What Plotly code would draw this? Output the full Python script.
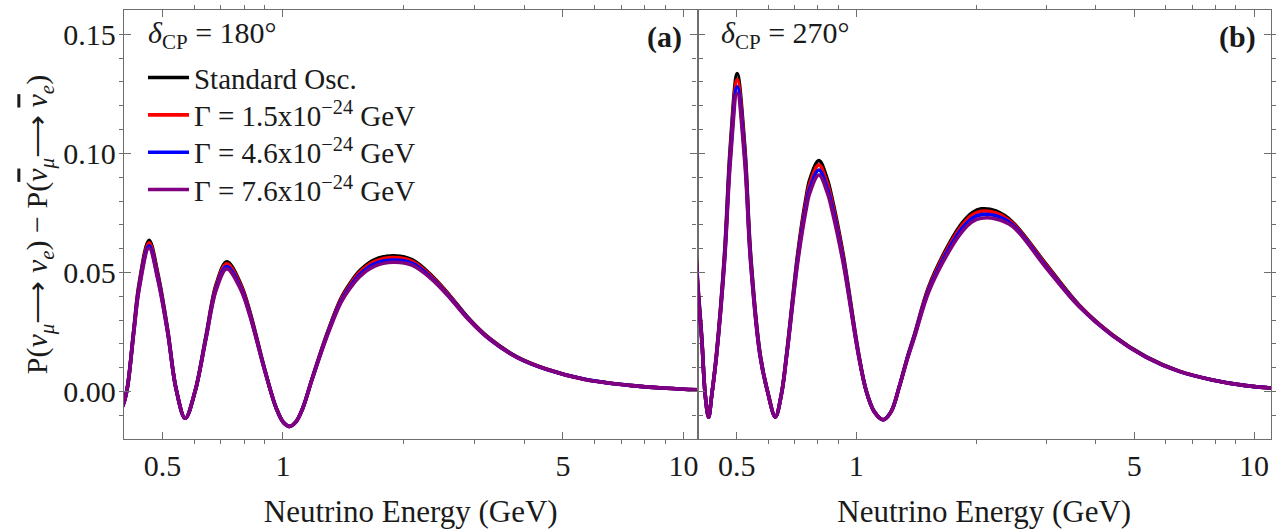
import plotly.graph_objects as go
from plotly.subplots import make_subplots

# ---------------- data ----------------
series_names = [
    "Standard Osc.",
    "Γ = 1.5x10<sup>−24</sup> GeV",
    "Γ = 4.6x10<sup>−24</sup> GeV",
    "Γ = 7.6x10<sup>−24</sup> GeV",
]
series_colors = ["#000000", "#ff0000", "#0000ff", "#800080"]

# panel (a): delta_CP = 180 deg
E_a = [0.390, 0.400, 0.409, 0.424, 0.437, 0.463, 0.487, 0.515, 0.541, 0.570,
       0.603, 0.642, 0.681, 0.724, 0.785, 0.827, 0.899, 0.962, 1.004, 1.039,
       1.076, 1.119, 1.183, 1.284, 1.394, 1.472, 1.556, 1.690, 1.886, 2.105,
       2.35, 2.62, 2.90, 3.27, 3.85, 4.54, 5.66, 7.44, 9.06, 10.9]
P_a_std = [-0.0090, -0.0050, 0.0020, 0.0260, 0.0450, 0.0635, 0.0495, 0.0262, 0.0010, -0.0112,
           0.0000, 0.0232, 0.0450, 0.0545, 0.0450, 0.0334, 0.0097, -0.0070, -0.0131, -0.0146,
           -0.0128, -0.0072, 0.0056, 0.0237, 0.0390, 0.0456, 0.0508, 0.0553, 0.0570, 0.0553,
           0.0487, 0.0400, 0.0310, 0.0225, 0.0145, 0.0095, 0.0052, 0.0025, 0.0014, 0.0007]
P_a_g15 = [-0.0090, -0.0050, 0.0020, 0.0256, 0.0443, 0.0625, 0.0487, 0.0258, 0.0010, -0.0112,
           0.0000, 0.0228, 0.0443, 0.0537, 0.0443, 0.0329, 0.0096, -0.0070, -0.0131, -0.0146,
           -0.0128, -0.0072, 0.0055, 0.0234, 0.0385, 0.0450, 0.0502, 0.0546, 0.0563, 0.0547,
           0.0483, 0.0397, 0.0308, 0.0224, 0.0144, 0.0095, 0.0052, 0.0025, 0.0014, 0.0007]
P_a_g46 = [-0.0090, -0.0050, 0.0020, 0.0251, 0.0434, 0.0612, 0.0477, 0.0253, 0.0010, -0.0112,
           0.0000, 0.0224, 0.0434, 0.0525, 0.0434, 0.0322, 0.0094, -0.0070, -0.0131, -0.0146,
           -0.0128, -0.0072, 0.0054, 0.0230, 0.0378, 0.0442, 0.0492, 0.0536, 0.0552, 0.0538,
           0.0477, 0.0393, 0.0306, 0.0222, 0.0143, 0.0094, 0.0052, 0.0025, 0.0014, 0.0007]
P_a_g76 = [-0.0090, -0.0050, 0.0020, 0.0247, 0.0427, 0.0603, 0.0470, 0.0249, 0.0010, -0.0112,
           0.0000, 0.0220, 0.0427, 0.0515, 0.0427, 0.0317, 0.0092, -0.0070, -0.0131, -0.0146,
           -0.0128, -0.0072, 0.0053, 0.0226, 0.0372, 0.0435, 0.0484, 0.0526, 0.0543, 0.0530,
           0.0472, 0.0390, 0.0304, 0.0221, 0.0142, 0.0094, 0.0051, 0.0025, 0.0014, 0.0007]

# panel (b): delta_CP = 270 deg
E_b = [0.390, 0.398, 0.4087, 0.4168, 0.425, 0.4329, 0.4450, 0.4660, 0.4820, 0.5015,
       0.5240, 0.5420, 0.5725, 0.598, 0.6255, 0.648, 0.6680, 0.7120, 0.7460, 0.7640,
       0.8050, 0.8450, 0.8700, 0.9260, 1.0130, 1.0600, 1.1100, 1.1680, 1.2220, 1.2820,
       1.3410, 1.4000, 1.5200, 1.7100, 1.8500, 1.9600, 2.0600, 2.2440, 2.4700, 3.00,
       3.63, 4.41, 5.35, 6.48, 7.86, 9.53, 11.1]
P_b_std = [0.0800, 0.0490, 0.0223, -0.0014, -0.0108, -0.0014, 0.0160, 0.0578, 0.1030, 0.1335,
           0.1030, 0.0578, 0.0160, 0.0000, -0.0106, -0.0010, 0.0160, 0.0578, 0.0807, 0.0891,
           0.0970, 0.0891, 0.0807, 0.0578, 0.0160, 0.0000, -0.0085, -0.0118, -0.0085, 0.0020,
           0.0139, 0.0240, 0.0440, 0.0620, 0.0710, 0.0752, 0.0767, 0.0758, 0.0712, 0.0535,
           0.0364, 0.0238, 0.0147, 0.0086, 0.0049, 0.0025, 0.0015]
P_b_g15 = [0.0785, 0.0481, 0.0219, -0.0014, -0.0108, -0.0014, 0.0157, 0.0567, 0.1010, 0.1310,
           0.1010, 0.0567, 0.0157, 0.0000, -0.0106, -0.0010, 0.0157, 0.0567, 0.0792, 0.0874,
           0.0952, 0.0874, 0.0792, 0.0567, 0.0157, 0.0000, -0.0085, -0.0118, -0.0085, 0.0020,
           0.0137, 0.0237, 0.0434, 0.0612, 0.0701, 0.0742, 0.0757, 0.0750, 0.0707, 0.0531,
           0.0362, 0.0237, 0.0146, 0.0086, 0.0049, 0.0025, 0.0015]
P_b_g46 = [0.0767, 0.0470, 0.0214, -0.0014, -0.0108, -0.0014, 0.0153, 0.0554, 0.0988, 0.1280,
           0.0988, 0.0554, 0.0153, 0.0000, -0.0106, -0.0010, 0.0153, 0.0554, 0.0774, 0.0854,
           0.0930, 0.0854, 0.0774, 0.0554, 0.0153, 0.0000, -0.0085, -0.0118, -0.0085, 0.0020,
           0.0135, 0.0233, 0.0426, 0.0601, 0.0688, 0.0729, 0.0743, 0.0738, 0.0700, 0.0525,
           0.0359, 0.0235, 0.0145, 0.0085, 0.0049, 0.0025, 0.0015]
P_b_g76 = [0.0750, 0.0459, 0.0209, -0.0014, -0.0108, -0.0014, 0.0150, 0.0542, 0.0965, 0.1252,
           0.0965, 0.0542, 0.0150, 0.0000, -0.0106, -0.0010, 0.0150, 0.0542, 0.0756, 0.0835,
           0.0909, 0.0835, 0.0756, 0.0542, 0.0150, 0.0000, -0.0085, -0.0118, -0.0085, 0.0020,
           0.0132, 0.0228, 0.0418, 0.0589, 0.0674, 0.0714, 0.0728, 0.0725, 0.0694, 0.0520,
           0.0357, 0.0234, 0.0145, 0.0085, 0.0049, 0.0025, 0.0015]

x_major_vals = [0.5, 1, 5, 10]
x_major_text = ["0.5", "1", "5", "10"]
x_minor_vals = [0.6, 0.7, 0.8, 0.9, 2, 3, 4, 6, 7, 8, 9]

panel_labels = ["<b>(a)</b>", "<b>(b)</b>"]
delta_labels = ["<i>δ</i><sub>CP</sub> = 180°", "<i>δ</i><sub>CP</sub> = 270°"]

x_title = "Neutrino Energy (GeV)"
NUBAR = '<span style="text-decoration:overline"><i>ν</i></span>'
y_title = ("P(<i>ν</i><sub><i>μ</i></sub>⟶ <i>ν</i><sub><i>e</i></sub>) − "
           "P(" + NUBAR + "<sub><i>μ</i></sub>⟶ " + NUBAR + "<sub><i>e</i></sub>)")

for E, ys in [(E_a, [P_a_std, P_a_g15, P_a_g46, P_a_g76]),
              (E_b, [P_b_std, P_b_g15, P_b_g46, P_b_g76])]:
    for y in ys:
        assert len(y) == len(E), (len(y), len(E))

# ---------------- figure ----------------
FONT = "Liberation Serif"
W, H = 1276, 529
ML, MR, MT, MB = 124, 4, 10, 88

fig = make_subplots(rows=1, cols=2, horizontal_spacing=0.0, shared_yaxes=False)

legend_ids = ["legend", "legend2", "legend3", "legend4"]
panels = [
    (E_a, [P_a_std, P_a_g15, P_a_g46, P_a_g76]),
    (E_b, [P_b_std, P_b_g15, P_b_g46, P_b_g76]),
]
for ci, (E, ys) in enumerate(panels, start=1):
    for si, y in enumerate(ys):
        fig.add_trace(
            go.Scatter(
                x=E, y=y, mode="lines",
                line=dict(color=series_colors[si], width=3.6, shape="spline", smoothing=1.0),
                name=series_names[si],
                showlegend=(ci == 1),
                legend=legend_ids[si],
                hoverinfo="skip",
            ),
            row=1, col=ci,
        )

axis_common = dict(
    showline=True, linecolor="#6e6e6e", linewidth=1.3, mirror="ticks",
    ticks="inside", tickcolor="#6e6e6e", tickwidth=1.2,
    showgrid=False, zeroline=False,
    tickfont=dict(family=FONT, size=30, color="#1a1a1a"),
)

x_ranges = [[-0.397, 1.035], [-0.3995, 1.0427]]
for ci in (1, 2):
    fig.update_xaxes(
        type="log", range=x_ranges[ci - 1],
        tickmode="array", tickvals=x_major_vals, ticktext=x_major_text, ticklen=7,
        minor=dict(tickmode="array", tickvals=x_minor_vals, ticklen=4,
                   tickcolor="#6e6e6e", tickwidth=1.0, showgrid=False),
        title=dict(text=x_title, font=dict(family=FONT, size=31, color="#1a1a1a"), standoff=21),
        **axis_common,
        row=1, col=ci,
    )
    fig.update_yaxes(
        range=[-0.0199, 0.1602],
        tickmode="linear", tick0=0, dtick=0.05, tickformat=".2f", ticklen=7,
        minor=dict(dtick=0.01, tick0=0, ticklen=4, tickcolor="#6e6e6e",
                   tickwidth=1.0, showgrid=False),
        showticklabels=(ci == 1),
        ticklabelstandoff=1,
        **axis_common,
        row=1, col=ci,
    )

fig.update_yaxes(
    title=dict(text=y_title, font=dict(family=FONT, size=30, color="#1a1a1a"), standoff=6),
    row=1, col=1,
)

plot_w = W - ML - MR
plot_h = H - MT - MB


def px_to_paper_x(px):
    return (px - ML) / plot_w


def py_to_paper_y(py):
    return (H - MB - py) / plot_h


# panel annotations
for i, (xl, xr) in enumerate([(146, 684), (720, 1259)]):
    fig.add_annotation(
        x=px_to_paper_x(xl), y=py_to_paper_y(35), xref="paper", yref="paper",
        text=delta_labels[i], showarrow=False, xanchor="left", yanchor="middle",
        font=dict(family=FONT, size=30, color="#1a1a1a"),
    )
    fig.add_annotation(
        x=px_to_paper_x(xr), y=py_to_paper_y(37), xref="paper", yref="paper",
        text=panel_labels[i], showarrow=False, xanchor="right", yanchor="middle",
        font=dict(family=FONT, size=30, color="#1a1a1a"),
    )

legend_rows_py = [78, 115.5, 153, 190.5]
layout_legends = {}
for lid, py in zip(legend_ids, legend_rows_py):
    layout_legends[lid] = dict(
        x=px_to_paper_x(143), y=py_to_paper_y(py), xanchor="left", yanchor="middle",
        bgcolor="rgba(0,0,0,0)", borderwidth=0,
        font=dict(family=FONT, size=29, color="#1a1a1a"),
        itemwidth=41,
    )

fig.update_layout(
    width=W, height=H,
    margin=dict(l=ML, r=MR, t=MT, b=MB, pad=0),
    paper_bgcolor="white", plot_bgcolor="white",
    showlegend=True,
    **layout_legends,
)

fig.write_html("out.html")
